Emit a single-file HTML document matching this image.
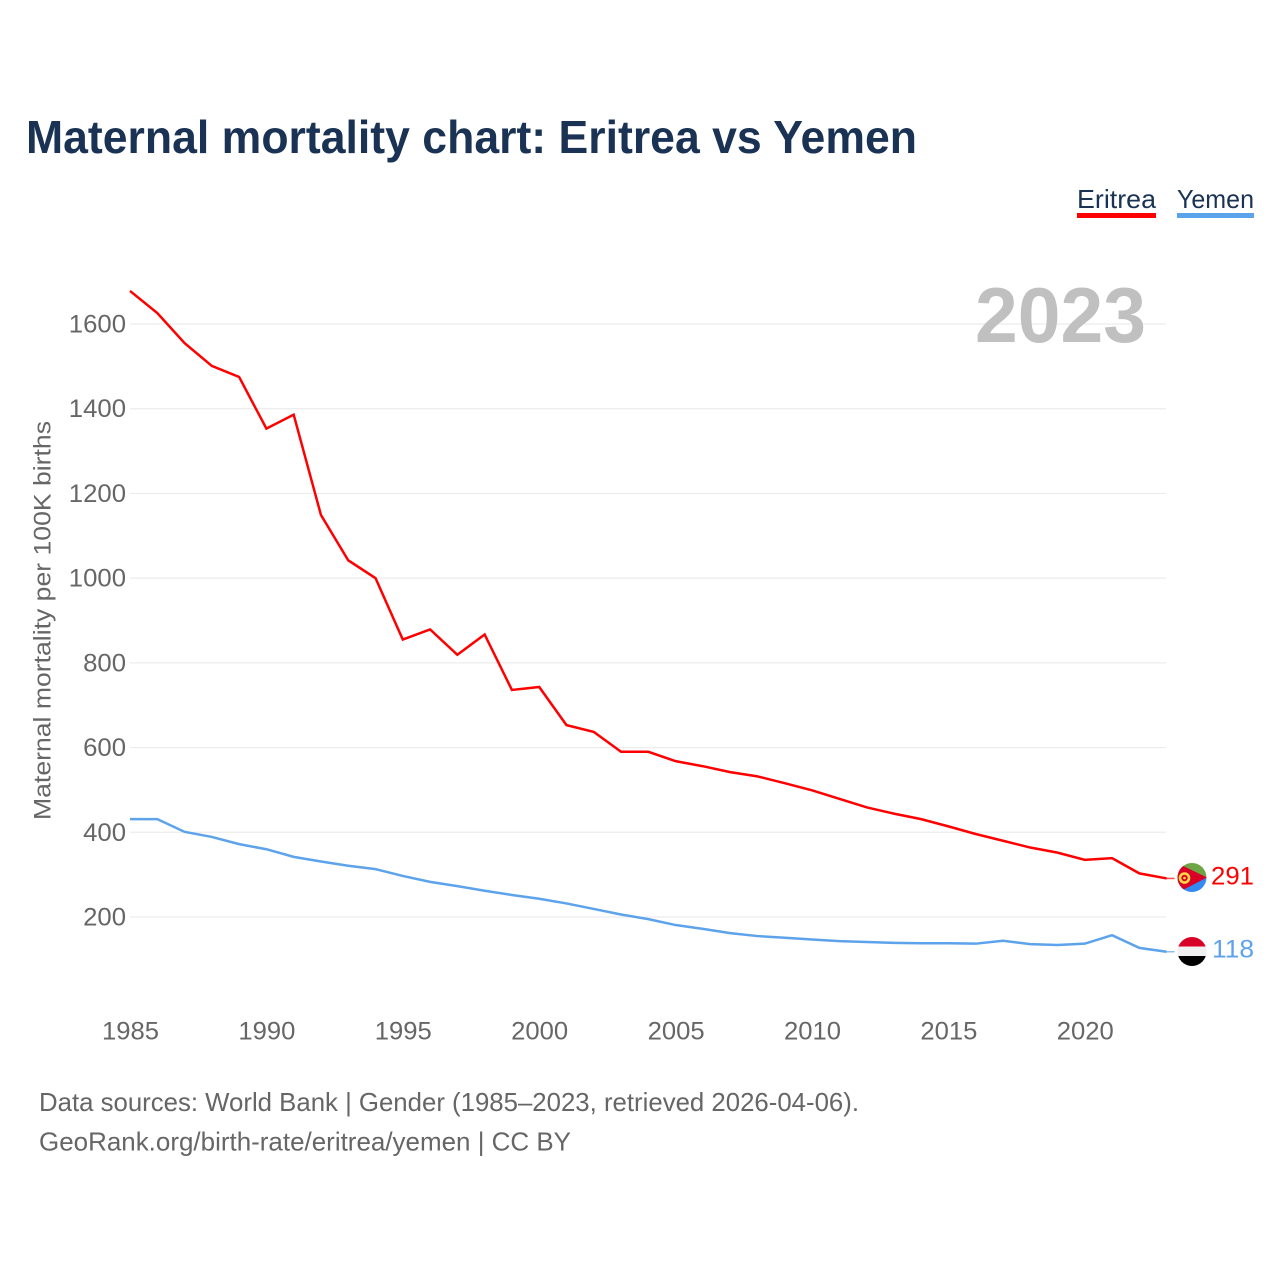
<!DOCTYPE html>
<html lang="en">
<head>
<meta charset="utf-8">
<title>Maternal mortality chart: Eritrea vs Yemen</title>
<style>
html,body{margin:0;padding:0;background:#fff;}
svg{display:block;}
text{font-family:"Liberation Sans",sans-serif;}
</style>
</head>
<body>
<svg id="chart" width="1280" height="1280" viewBox="0 0 1280 1280" xmlns="http://www.w3.org/2000/svg">
  <rect width="1280" height="1280" fill="#fff"/>
  <text x="26" y="153" font-size="46" font-weight="700" fill="#1a3354" textLength="891" lengthAdjust="spacingAndGlyphs">Maternal mortality chart: Eritrea vs Yemen</text>

  <g>
    <text x="1077" y="208" font-size="26" fill="#1a3354" textLength="79" lengthAdjust="spacingAndGlyphs">Eritrea</text>
    <rect x="1077" y="213" width="79" height="5" fill="#ff0000"/>
  </g>
  <g>
    <text x="1177" y="208" font-size="26" fill="#1a3354" textLength="77" lengthAdjust="spacingAndGlyphs">Yemen</text>
    <rect x="1177" y="213" width="77" height="5" fill="#5ca3ec"/>
  </g>

  <g id="grid"></g>
  <g id="y-ticks"></g>
  <g id="x-ticks"></g>

  <text x="975" y="342" font-size="78" font-weight="700" fill="#c0c0c0" textLength="171" lengthAdjust="spacingAndGlyphs">2023</text>

  <text transform="translate(50.5,820) rotate(-90)" x="0" y="0" font-size="24.5" fill="#666" textLength="399" lengthAdjust="spacingAndGlyphs">Maternal mortality per 100K births</text>

  <g id="series"></g>

  <defs>
    <clipPath id="eritrea-clip"><circle cx="1192" cy="877.5" r="14.5"/></clipPath>
    <clipPath id="yemen-clip"><circle cx="1192" cy="951.5" r="14.5"/></clipPath>
  </defs>
  <g clip-path="url(#eritrea-clip)">
    <rect x="1177" y="863" width="30" height="15" fill="#6da544"/>
    <rect x="1177" y="877.5" width="30" height="15" fill="#338af3"/>
    <polygon points="1177,863 1207,877.5 1177,893" fill="#d80027"/>
    <circle cx="1184.5" cy="878" r="4.5" fill="none" stroke="#ffda44" stroke-width="2.6"/>
    <circle cx="1184.5" cy="878" r="1.3" fill="#ffda44"/>
  </g>
  <g clip-path="url(#yemen-clip)">
    <rect x="1177" y="937" width="30" height="10" fill="#d80027"/>
    <rect x="1177" y="946.5" width="30" height="10" fill="#f0f0f0"/>
    <rect x="1177" y="956" width="30" height="11" fill="#000"/>
  </g>

  <text x="1211" y="884.5" font-size="25" fill="#ff0000" textLength="43" lengthAdjust="spacingAndGlyphs">291</text>
  <text x="1212" y="957.5" font-size="25" fill="#5ca3ec" textLength="42" lengthAdjust="spacingAndGlyphs">118</text>

  <text x="39" y="1111" font-size="26" fill="#666" textLength="820" lengthAdjust="spacingAndGlyphs">Data sources: World Bank | Gender (1985–2023, retrieved 2026-04-06).</text>
  <text x="39" y="1150.5" font-size="26" fill="#666" textLength="532" lengthAdjust="spacingAndGlyphs">GeoRank.org/birth-rate/eritrea/yemen | CC BY</text>
</svg>
<script>
const years = [1985,1986,1987,1988,1989,1990,1991,1992,1993,1994,1995,1996,1997,1998,1999,2000,2001,2002,2003,2004,2005,2006,2007,2008,2009,2010,2011,2012,2013,2014,2015,2016,2017,2018,2019,2020,2021,2022,2023];
const eritreaValues = [1678,1626,1555,1501,1475,1353,1386,1149,1042,1000,855,879,819,867,736,743,653,637,590,590,568,556,542,532,516,499,479,459,444,431,414,396,380,364,352,335,339,303,291];
const yemenValues = [431,431,401,389,372,360,342,331,321,313,297,283,273,262,252,243,232,219,206,195,181,172,162,155,151,147,143,141,139,138,138,137,144,136,134,137,157,127,118];
const yTickValues = [200,400,600,800,1000,1200,1400,1600];
const xTickValues = [1985,1990,1995,2000,2005,2010,2015,2020];

const NS = 'http://www.w3.org/2000/svg';
function xScale(year) { return 130 + (year - 1985) * 27.28; }
function yScale(value) { return 917 - (value - 200) * 0.42357; }
function make(tag, attrs, parent) {
  const el = document.createElementNS(NS, tag);
  Object.keys(attrs).forEach(function (k) { el.setAttribute(k, attrs[k]); });
  parent.appendChild(el);
  return el;
}

const gridGroup = document.getElementById('grid');
const yTickGroup = document.getElementById('y-ticks');
const xTickGroup = document.getElementById('x-ticks');
const seriesGroup = document.getElementById('series');

yTickValues.forEach(function (v) {
  const line = make('line', { x1: 130, x2: 1166, y1: yScale(v), y2: yScale(v), stroke: '#ececec', 'stroke-width': 1.2 }, gridGroup);
  
  
  const label = make('text', { x: 126, y: yScale(v) + 8.5, 'text-anchor': 'end', 'font-size': 25, fill: '#666', textLength: String(v).length * 14.3, lengthAdjust: 'spacingAndGlyphs' }, yTickGroup);
  
  
  label.textContent = v;
});

xTickValues.forEach(function (year) {
  const label = make('text', { x: xScale(year) + 0.5, y: 1039.5, 'text-anchor': 'middle', 'font-size': 25, fill: '#666', textLength: 57, lengthAdjust: 'spacingAndGlyphs' }, xTickGroup);
  
  
  label.textContent = year;
});

function drawSeries(values, color, name) {
  const pts = values.map(function (v, i) { return xScale(years[i]) + ',' + yScale(v); }).join(' ');
  const line = make('polyline', { points: pts, fill: 'none', stroke: color, 'stroke-width': 2.5, 'stroke-linejoin': 'miter' }, seriesGroup);
  
  
  const lastV = values[values.length - 1];
  const lastX = xScale(years[years.length - 1]);
  const lead = make('line', { x1: lastX, x2: lastX + 8, y1: yScale(lastV), y2: yScale(lastV), stroke: color, 'stroke-width': 1.5, opacity: 0.7 }, seriesGroup);
  
  
}
drawSeries(eritreaValues, '#ff0000', 'eritrea');
drawSeries(yemenValues, '#5ca3ec', 'yemen');
</script>
</body>
</html>
